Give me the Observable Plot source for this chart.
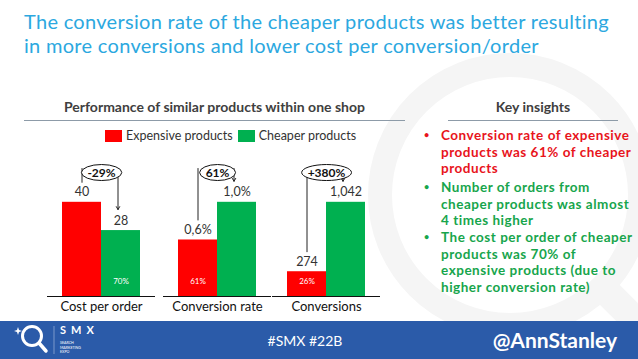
<!DOCTYPE html>
<html><head><meta charset="utf-8">
<script src="https://cdn.jsdelivr.net/npm/d3@7"></script>
<script src="https://cdn.jsdelivr.net/npm/@observablehq/plot@0.6"></script>
<style>
html,body{margin:0;padding:0;background:#fff;}
#slide{position:relative;width:638px;height:359px;overflow:hidden;background:#fff;font-family:Lato,"Open Sans",sans-serif;}
.abs{position:absolute;}
.title{left:24px;font-size:20px;line-height:24px;letter-spacing:0.3px;color:#2ca8df;white-space:nowrap;}
.hdr{font-size:14px;font-weight:bold;color:#404040;text-align:center;white-space:nowrap;}
.hline{height:0;border-top:1.3px solid #8d9ba8;}
.ins{left:424px;font-size:13.5px;font-weight:bold;line-height:16.5px;white-space:nowrap;letter-spacing:0.52px;}
.ins .dot{position:absolute;left:0;font-size:9px;}
.ins .txt{position:absolute;left:17px;}
.red{color:#e8141c;}
.green{color:#17a54c;}
#legend, #legend *{font-family:Lato,sans-serif !important;font-size:12.5px !important;color:#333 !important;}
#legend > div{margin:0 !important;min-height:0 !important;}
#legend .lg-swatch{margin-right:5px !important;}
#legend .lg-swatch > svg{margin-right:4px !important;}
.panel svg{overflow:visible;}
</style></head><body>
<div id="slide">
  <svg class="abs" style="left:0;top:0" width="638" height="359">
    <circle cx="510" cy="195" r="130" fill="none" stroke="#f5f5f5" stroke-width="24"/>
    <line x1="600" y1="285" x2="660" y2="345" stroke="#f5f5f5" stroke-width="28"/>
  </svg>
  <div class="abs title" style="top:9px;">The conversion rate of the cheaper products was better resulting</div>
  <div class="abs title" style="top:33px;">in more conversions and lower cost per conversion/order</div>
  <div class="abs hdr" style="left:24px;width:381px;top:98px;">Performance of similar products within one shop</div>
  <div class="abs hline" style="left:24px;width:381px;top:120px;"></div>
  <div class="abs hdr" style="left:448px;width:170px;top:98px;">Key insights</div>
  <div class="abs hline" style="left:448px;width:170px;top:120px;"></div>
  <div id="legend" class="abs" style="left:105px;top:128px;"></div>
  <div id="charts"></div>
  <div class="abs ins red" style="top:127px;"><span class="dot">•</span><span class="txt">Conversion rate of expensive<br>products was 61% of cheaper<br>products</span></div>
  <div class="abs ins green" style="top:179px;"><span class="dot">•</span><span class="txt">Number of orders from<br>cheaper products was almost<br>4 times higher</span></div>
  <div class="abs ins green" style="top:229px;"><span class="dot">•</span><span class="txt">The cost per order of cheaper<br>products was 70% of<br>expensive products (due to<br>higher conversion rate)</span></div>
  <svg class="abs" style="left:0;top:321px" width="638" height="38">
    <rect width="638" height="38" fill="#2b5ba9"/>
    <circle cx="32" cy="15" r="9.5" fill="none" stroke="#fff" stroke-width="3"/>
    <line x1="39" y1="22" x2="46" y2="30" stroke="#fff" stroke-width="3.5" stroke-linecap="round"/>
    <path d="M18 6 L19 9 L22 10 L19 11 L18 14 L17 11 L14 10 L17 9 Z" fill="#fff"/>
    <line x1="54" y1="5" x2="54" y2="33" stroke="#8fa8d4" stroke-width="0.8"/>
    <text x="60" y="13" font-size="11" font-weight="bold" fill="#fff" letter-spacing="5" font-family="Lato,sans-serif">SMX</text>
    <text x="60" y="23" font-size="3.6" fill="#fff" font-family="Lato,sans-serif">SEARCH</text>
    <text x="60" y="27.5" font-size="3.6" fill="#fff" font-family="Lato,sans-serif">MARKETING</text>
    <text x="60" y="32" font-size="3.6" fill="#fff" font-family="Lato,sans-serif">EXPO</text>
    <text x="305" y="25" text-anchor="middle" font-size="14" fill="#fff" font-family="Lato,sans-serif">#SMX #22B</text>
    <text x="617" y="27" text-anchor="end" font-size="21" font-weight="bold" fill="#fff" font-family="Lato,sans-serif">@AnnStanley</text>
  </svg>
</div>
<script>
const panels = ["Cost per order", "Conversion rate", "Conversions"];
const series = ["Expensive products", "Cheaper products"];
const seriesColors = ["#ff0000", "#00b050"];
const expensiveValues = [40, 0.6, 274];
const cheaperValues = [28, 1.0, 1042];
const expensiveLabels = ["40", "0,6%", "274"];
const cheaperLabels = ["28", "1,0%", "1,042"];
const expensiveShare = ["", "61%", "26%"];
const cheaperShare = ["70%", "", ""];
const changeLabels = ["-29%", "61%", "+380%"];
const panelLefts = [47, 163, 272];

const legend = Plot.legend({
  color: {type: "categorical", domain: series, range: seriesColors},
  swatchWidth: 17, swatchHeight: 12, className: "lg",
  style: {fontFamily: "Lato, sans-serif", fontSize: "12.5px", color: "#333"}
});
document.getElementById("legend").appendChild(legend);

const charts = document.getElementById("charts");
panels.forEach((name, i) => {
  const rows = [
    {series: series[0], value: expensiveValues[i], label: expensiveLabels[i], share: expensiveShare[i]},
    {series: series[1], value: cheaperValues[i], label: cheaperLabels[i], share: cheaperShare[i]}
  ];
  const top = Math.max(...rows.map(d => d.value)) * 1.55;
  const chart = Plot.plot({
    width: 108, height: 168, marginTop: 0, marginBottom: 22, marginLeft: 0, marginRight: 0,
    style: {fontFamily: "Lato, sans-serif", background: "transparent", overflow: "visible"},
    x: {domain: series, paddingInner: 0, paddingOuter: 0.37, axis: null},
    y: {domain: [0, top], axis: null},
    color: {domain: series, range: seriesColors},
    marks: [
      Plot.barY(rows, {x: "series", y: "value", fill: "series"}),
      Plot.ruleY([0], {stroke: "#111", strokeWidth: 1.2}),
      Plot.text(rows, {x: "series", y: "value", text: "label", dy: -10, fontSize: 12.5, fill: "#333"}),
      Plot.text(rows.filter(d => d.share), {x: "series", y: () => 0, text: "share", dy: -15, fontSize: 8, fill: "white"}),
      Plot.text([name], {frameAnchor: "bottom", dy: 14, text: d => d, fontSize: 13, fill: "#111"}),
      Plot.arrow([rows[0]], {x1: "series", x2: "series", y1: () => top, y2: "value", insetStart: 18, insetEnd: 20, headLength: 0, stroke: "#222", strokeWidth: 1}),
      Plot.arrow([rows[1]], {x1: "series", x2: "series", y1: () => top, y2: "value", insetStart: 18, insetEnd: 21, headLength: 5, stroke: "#222", strokeWidth: 1, dx: -3}),
      Plot.text([changeLabels[i]], {frameAnchor: "top", dy: 18, text: d => d, fontSize: 12, fontWeight: "bold", fill: "#111"})
    ]
  });
  const wrap = document.createElement("div");
  wrap.className = "abs panel";
  wrap.style.left = panelLefts[i] + "px";
  wrap.style.top = "150px";
  wrap.appendChild(chart);
  charts.appendChild(wrap);
  const svg = chart.tagName.toLowerCase() === "svg" ? chart : chart.querySelector("svg");
  const matches = Array.from(svg.querySelectorAll("text")).filter(t => t.textContent === changeLabels[i]);
  const t = matches[matches.length - 1];
  if (t) {
    const b = t.getBBox();
    const el = document.createElementNS("http://www.w3.org/2000/svg", "ellipse");
    const tr = t.getAttribute("transform");
    if (tr) el.setAttribute("transform", tr);
    el.setAttribute("cx", b.x + b.width / 2);
    el.setAttribute("cy", b.y + b.height / 2);
    el.setAttribute("rx", b.width / 2 + 6);
    el.setAttribute("ry", b.height / 2 + 0.5);
    el.setAttribute("fill", "white");
    el.setAttribute("stroke", "#111");
    el.setAttribute("stroke-width", "1");
    t.parentNode.insertBefore(el, t);
  }
});
</script>
</body></html>
